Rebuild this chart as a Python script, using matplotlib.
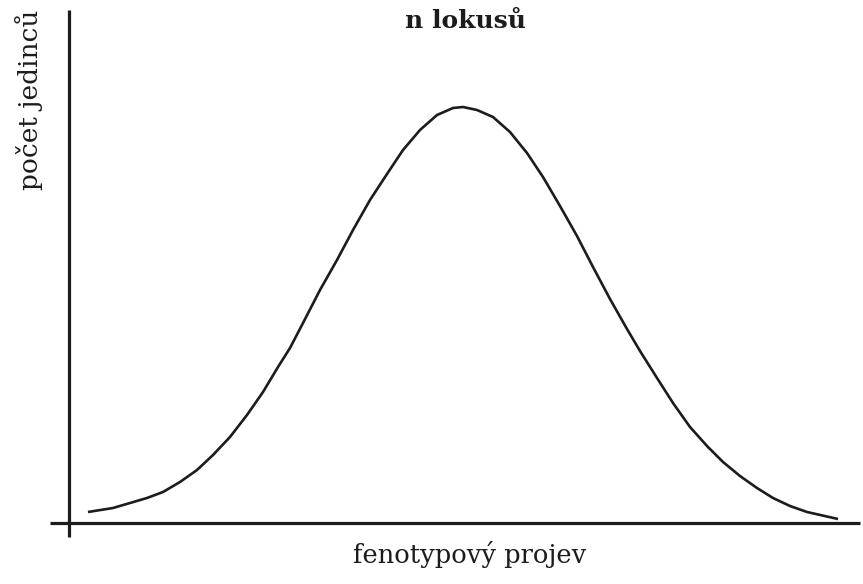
import matplotlib
matplotlib.use("Agg")
import matplotlib.pyplot as plt

# curve (phenotype value, number of individuals)
phenotype = [20, 45, 62, 79, 95, 112, 129, 145, 162, 179, 195, 210, 222, 235,
             252, 269, 285, 302, 319, 335, 352, 369, 385, 395, 409, 425, 442,
             459, 475, 492, 509, 525, 542, 559, 572, 589, 605, 622, 639, 655,
             672, 689, 705, 722, 739, 770]
count = [11, 15, 20, 25, 31, 41, 53, 68, 86, 108, 131, 156, 175, 200,
         233, 263, 293, 323, 349, 373, 393, 408, 415, 416, 413, 406, 391,
         370, 346, 317, 287, 256, 224, 194, 172, 145, 120, 96, 77, 61,
         47, 35, 25, 17, 11, 4]

title = "n lokusů"
xlabel = "fenotypový projev"
ylabel = "počet jedinců"

ink = "#1c1c1c"

fig = plt.figure(figsize=(8.63, 5.84), dpi=100)
ax = fig.add_axes([0, 0, 1, 1])
ax.set_xlim(-68, 795)
ax.set_ylim(-61, 523)
ax.axis("off")

# hand-drawn style axes
ax.plot([-18, 792], [0, 0], color=ink, linewidth=2.3, solid_capstyle="butt")
ax.plot([1, 1], [-14, 513], color=ink, linewidth=2.3, solid_capstyle="butt")

ax.plot(phenotype, count, color=ink, linewidth=1.9,
        solid_joinstyle="round", solid_capstyle="butt")

fig.text(465 / 863, 1 - 21 / 584, title, ha="center", va="center",
         fontsize=18, fontweight="bold", family="DejaVu Serif", color=ink)
fig.text(470 / 863, 1 - 554 / 584, xlabel, ha="center", va="center",
         fontsize=18.5, family="DejaVu Serif", color=ink)
fig.text(29 / 863, 1 - 100 / 584, ylabel, ha="center", va="center",
         rotation=90, fontsize=19, family="DejaVu Serif", color=ink)

fig.savefig("out.png", dpi=100, facecolor="white")
